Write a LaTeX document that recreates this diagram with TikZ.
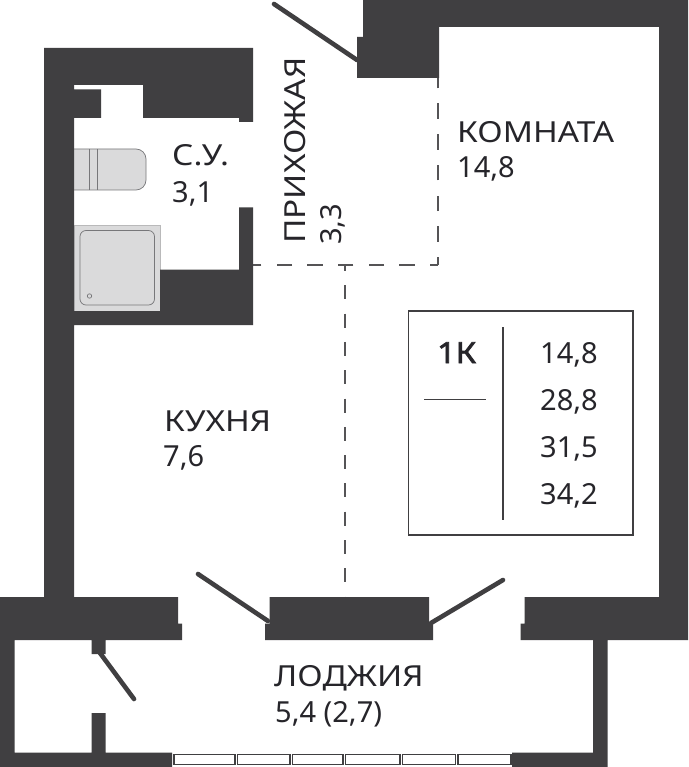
\documentclass[tikz,border=0pt]{standalone}
\usepackage{fontspec}
\setmainfont{Noto Sans}
\newfontfamily\widef[FakeStretch=1.15]{Noto Sans}
\newfontfamily\boldf[FakeStretch=1.12,FakeBold=2.6]{Noto Sans}
\definecolor{wall}{HTML}{403F41}
\definecolor{dashc}{HTML}{555456}
\definecolor{txt}{HTML}{26252A}
\definecolor{fix}{HTML}{DADADB}
\definecolor{fixl}{HTML}{77777A}
\tikzset{
 wallf/.style={fill=wall,draw=none},
 doorl/.style={draw=wall,line width=4.6pt,line cap=round},
 dashl/.style={draw=dashc,line width=1.6pt,dash pattern=on 15.5pt off 15.2pt,dash phase=7.5pt},
 dashm/.style={draw=dashc,line width=1.6pt,dash pattern=on 14pt off 14.3pt,dash phase=8pt},
 fixt/.style={fill=fix,draw=fixl,line width=.7pt},
 win/.style={draw=wall,line width=1.3pt,fill=white},
 lab/.style={text=txt,anchor=base west,inner sep=0pt,font=\widef\fontsize{29}{29}\selectfont},
 num/.style={text=txt,anchor=base west,inner sep=0pt,font=\fontsize{29}{29}\selectfont},
 boldlab/.style={text=txt,anchor=base west,inner sep=0pt,font=\boldf\fontsize{29}{29}\selectfont},
}
\begin{document}
\begin{tikzpicture}[x=1pt,y=-1pt]
\useasboundingbox (0,0) rectangle (688,767);
\fill[white] (0,0) rectangle (688,767);
% fixtures
\path[fixt,rounded corners=10pt] (74,190) -- (146,190) -- (146,149) -- (74,149);
\draw[fixl,line width=.7pt] (89.5,149) -- (89.5,190) (97.5,149) -- (97.5,190);
\path[fill=fix,draw=fix!85!black,line width=.6pt] (74,225.5) rectangle (160,311);
\path[fixt,rounded corners=6pt] (80,230.5) rectangle (154.5,305);
\draw[fixl,line width=.7pt] (89.5,296) circle[radius=2.2pt];
% dashed room borders
\coordinate (corner) at (438,265);
\coordinate (jn) at (345,265);
\coordinate (dtop) at (438,78);
\coordinate (dleft) at (253,265);
\coordinate (dbot) at (345,597);
\draw[dashl] (corner) -- (dtop);
\draw[dashl] (corner) -- (dleft);
\draw[dashm] (jn) -- (dbot);
% walls
\path[wallf] (44,48) -- (253,48) -- (253,122) -- (239,122) -- (239,118) -- (143,118) -- (143,85) -- (74,85) -- (74,89.5) -- (101,89.5) -- (101,118) -- (74,118) -- (74,311) -- (160,311) -- (160,269.5) -- (239,269.5) -- (239,207.5) -- (253,207.5) -- (253,325) -- (74,325) -- (74,597) -- (178,597) -- (178,623.5) -- (182,623.5) -- (182,640) -- (105.5,640) -- (105.5,654) -- (91.5,654) -- (91.5,640) -- (14.5,640) -- (14.5,752.5) -- (91.5,752.5) -- (91.5,713) -- (105.5,713) -- (105.5,752.5) -- (172,752.5) -- (172,767) -- (0,767) -- (0,597) -- (44,597) -- cycle;
\path[wallf] (269.5,597) -- (429,597) -- (429,623.5) -- (433,623.5) -- (433,640) -- (265,640) -- (265,623.5) -- (269.5,623.5) -- cycle;
\path[wallf] (363,0) -- (688,0) -- (688,640) -- (607.5,640) -- (607.5,767) -- (512,767) -- (512,752.5) -- (593,752.5) -- (593,640) -- (520.5,640) -- (520.5,623.5) -- (524.5,623.5) -- (524.5,597) -- (659,597) -- (659,27) -- (439,27) -- (439,78) -- (357,78) -- (357,37) -- (363,37) -- cycle;
% doors
\coordinate (d1a) at (274,4); \coordinate (d1b) at (357,60);
\coordinate (d2a) at (198,574); \coordinate (d2b) at (268,621);
\coordinate (d3a) at (503,580); \coordinate (d3b) at (431,623);
\coordinate (d4a) at (134,699); \coordinate (d4b) at (100,653);
\draw[doorl] (d1a) -- (d1b);
\draw[doorl] (d2a) -- (d2b);
\draw[doorl] (d3a) -- (d3b);
\draw[doorl] (d4a) -- (d4b);
% windows
\foreach \a/\b in {174/235,237.5/290,292.5/343,345.5/400,402.5/455.5,458/511}
  \draw[win] (\a,754.5) rectangle (\b,764.5);
% legend
\draw[draw=wall,line width=1.2pt] (408.5,311) rectangle (633,535);
\draw[draw=wall,line width=1.6pt] (503,327) -- (503,520);
\draw[draw=wall,line width=1.2pt] (424,399.5) -- (486,399.5);
% labels
\node[lab] (komn) at (457,143) {КОМНАТА};
\node[num] (komna) at (457,178) {14,8};
\node[lab] (su) at (172,166) {С.У.};
\node[num] (sua) at (172,203) {3,1};
\node[lab,rotate=90] (prih) at (305,244) {ПРИХОЖАЯ};
\node[num,rotate=90] (priha) at (341,245) {3,3};
\node[lab] (kuh) at (164,431) {КУХНЯ};
\node[num] (kuha) at (163,466) {7,6};
\node[lab] (lod) at (274,686.5) {ЛОДЖИЯ};
\node[num] (loda) at (275,722) {5,4 (2,7)};
\node[boldlab] (typ) at (437,363) {1К};
\node[num] (v1) at (540,363) {14,8};
\node[num] (v2) at (540,410) {28,8};
\node[num] (v3) at (540,457.5) {31,5};
\node[num] (v4) at (540,504) {34,2};
\end{tikzpicture}
\end{document}
